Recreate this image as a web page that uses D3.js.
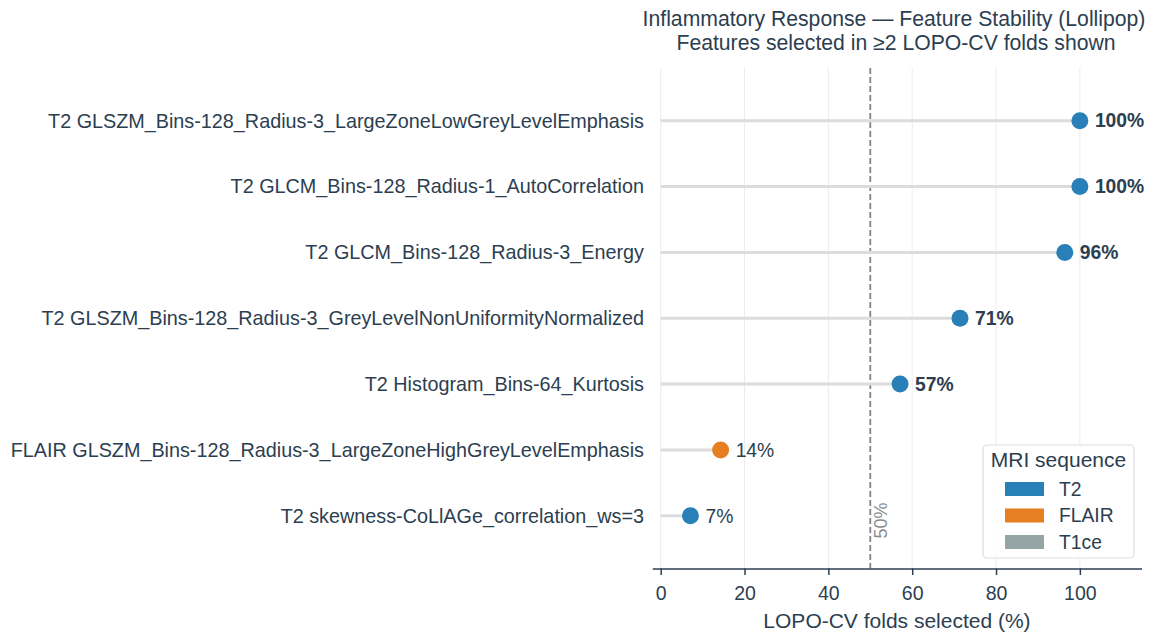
<!DOCTYPE html>
<html><head><meta charset="utf-8">
<script src="https://cdn.jsdelivr.net/npm/d3@7"></script>
<style>body{margin:0;background:#fff;} svg{display:block;font-family:"Liberation Sans",Arial,sans-serif;}</style>
</head><body>
<script>
const features = [
  "T2 GLSZM_Bins-128_Radius-3_LargeZoneLowGreyLevelEmphasis",
  "T2 GLCM_Bins-128_Radius-1_AutoCorrelation",
  "T2 GLCM_Bins-128_Radius-3_Energy",
  "T2 GLSZM_Bins-128_Radius-3_GreyLevelNonUniformityNormalized",
  "T2 Histogram_Bins-64_Kurtosis",
  "FLAIR GLSZM_Bins-128_Radius-3_LargeZoneHighGreyLevelEmphasis",
  "T2 skewness-CoLlAGe_correlation_ws=3"
];
const percents = [100, 100, 96.4, 71.4, 57.1, 14.3, 7.1];
const sequences = ["T2","T2","T2","T2","T2","FLAIR","T2"];
const legendLabels = ["T2","FLAIR","T1ce"];
const legendColors = ["#2980b9","#e67e22","#95a5a6"];
const xTicks = [0,20,40,60,80,100];
const threshold = 50;

const W=1166,H=635;
const m={left:652.3,right:24.5,top:68,bottom:66.5};
const svg=d3.select("body").append("svg").attr("width",W).attr("height",H);
const x=d3.scaleLinear().domain([-2,114.7]).range([m.left,W-m.right]);
const y=d3.scalePoint().domain(features).range([m.top,H-m.bottom]).padding(0.8);
const color=d3.scaleOrdinal().domain(legendLabels).range(legendColors);
const dark="#2c3e50";

// grid
svg.append("g").selectAll("line").data(xTicks).join("line")
  .attr("x1",d=>x(d)).attr("x2",d=>x(d)).attr("y1",m.top).attr("y2",H-m.bottom)
  .attr("stroke","#ececec").attr("stroke-width",1);

// threshold
svg.append("line").attr("x1",x(threshold)).attr("x2",x(threshold)).attr("y1",m.top).attr("y2",H-m.bottom)
  .attr("stroke","#7f8387").attr("stroke-width",1.8).attr("stroke-dasharray","6,3");
svg.append("text").attr("transform",`translate(${x(threshold)+17},${H-m.bottom-30}) rotate(-90)`)
  .attr("font-size",18).attr("fill","#8a8f93").text("50%");

// stems
svg.append("g").selectAll("line").data(features).join("line")
  .attr("x1",x(0)).attr("x2",(d,i)=>x(percents[i])).attr("y1",d=>y(d)).attr("y2",d=>y(d))
  .attr("stroke","#dcdcdc").attr("stroke-width",3);

// dots
svg.append("g").selectAll("circle").data(features).join("circle")
  .attr("cx",(d,i)=>x(percents[i])).attr("cy",d=>y(d)).attr("r",8.5)
  .attr("fill",(d,i)=>color(sequences[i]));

// value labels
svg.append("g").selectAll("text").data(features).join("text")
  .attr("x",(d,i)=>x(percents[i])+15).attr("y",d=>y(d)).attr("dy","0.35em")
  .attr("font-size",19.3).attr("fill",dark)
  .attr("font-weight",(d,i)=>percents[i]>=threshold?"bold":"normal")
  .text((d,i)=>Math.round(percents[i])+"%");

// y labels
svg.append("g").selectAll("text").data(features).join("text")
  .attr("x",644).attr("y",d=>y(d)).attr("dy","0.35em").attr("text-anchor","end")
  .attr("font-size",19.8).attr("fill",dark).text(d=>d);

// x axis
const xa=svg.append("g").attr("transform",`translate(0,${H-m.bottom})`)
  .call(d3.axisBottom(x).tickValues(xTicks).tickSize(6.5).tickPadding(11).tickSizeOuter(0));
xa.select(".domain").attr("stroke",dark).attr("stroke-width",1.5);
xa.selectAll(".tick line").attr("stroke",dark).attr("stroke-width",1.5);
xa.selectAll(".tick text").attr("font-size",19.5).attr("fill",dark).attr("font-family","Liberation Sans,Arial,sans-serif");

svg.append("text").attr("x",897).attr("y",628).attr("text-anchor","middle")
  .attr("font-size",21).attr("fill",dark).text("LOPO-CV folds selected (%)");

// title
svg.append("text").attr("x",894).attr("y",25.5).attr("text-anchor","middle")
  .attr("font-size",21.2).attr("fill",dark).text("Inflammatory Response \u2014 Feature Stability (Lollipop)");
svg.append("text").attr("x",896).attr("y",49.5).attr("text-anchor","middle")
  .attr("font-size",21.2).attr("fill",dark).text("Features selected in \u22652 LOPO-CV folds shown");

// legend
const lg=svg.append("g").attr("transform","translate(983,445)");
lg.append("rect").attr("width",151).attr("height",113).attr("rx",4)
  .attr("fill","#fff").attr("fill-opacity",0.85).attr("stroke","#dddddd").attr("stroke-width",1.2);
lg.append("text").attr("x",75.5).attr("y",22).attr("text-anchor","middle").attr("font-size",21).attr("fill",dark).text("MRI sequence");
const it=lg.selectAll("g.it").data(legendLabels).join("g").attr("class","it")
  .attr("transform",(d,i)=>`translate(22,${44+i*26.5})`);
it.append("rect").attr("width",39).attr("height",14).attr("y",-7).attr("fill",d=>color(d));
it.append("text").attr("x",54).attr("dy","0.35em").attr("font-size",19.3).attr("fill",dark).text(d=>d);
</script>
</body></html>
